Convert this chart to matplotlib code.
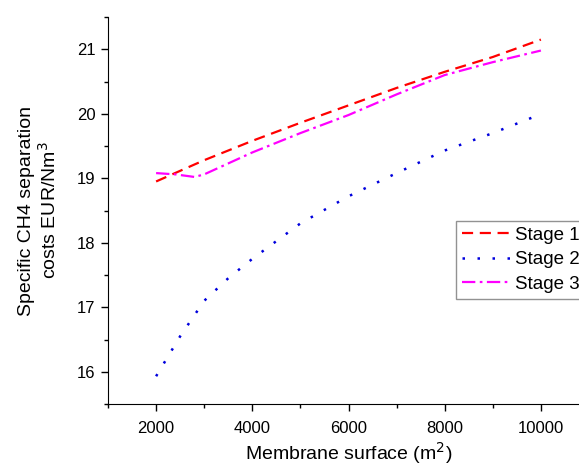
import numpy as np
import matplotlib
matplotlib.use('Agg')
import matplotlib.pyplot as plt
from matplotlib.ticker import MultipleLocator

plt.rcParams['font.family'] = ['Liberation Sans', 'DejaVu Sans']

# data
x_stage1 = [2000, 3000, 4000, 5000, 6000, 7000, 8000, 9000, 10000]
y_stage1 = [18.95, 19.28, 19.58, 19.86, 20.13, 20.4, 20.65, 20.88, 21.15]

x_stage2 = [2000, 2500, 3000, 3500, 4000, 5000, 6000, 7000, 8000, 9000, 9850]
y_stage2 = [15.93, 16.55, 17.1, 17.45, 17.75, 18.3, 18.72, 19.08, 19.43, 19.7, 19.95]

x_stage3 = [2000, 2400, 2800, 3000, 4000, 5000, 6000, 7000, 8000, 9000, 10000]
y_stage3 = [19.08, 19.06, 19.02, 19.06, 19.4, 19.7, 19.98, 20.3, 20.6, 20.8, 20.98]

labels = ['Stage 1', 'Stage 2', 'Stage 3']


def main():
    fig = plt.figure(figsize=(5.79, 4.67), dpi=100)
    # axes run past the right edge of the figure, as in the cropped original
    ax = fig.add_axes([108/579, 63/467, 481/579, 387/467])

    ax.plot(x_stage1, y_stage1, color='#ff0000', linestyle=(0, (5, 3)), lw=1.6, label=labels[0])
    ax.plot(x_stage2, y_stage2, color='#0000dd', linestyle=(0, (1, 5)), lw=1.8, label=labels[1])
    ax.plot(x_stage3, y_stage3, color='#ff00ff', linestyle=(0, (6, 2, 1.2, 2)), lw=1.6, label=labels[2])

    ax.set_xlim(1000, 11000)
    ax.set_ylim(15.5, 21.5)
    ax.xaxis.set_major_locator(MultipleLocator(2000))
    ax.xaxis.set_minor_locator(MultipleLocator(1000))
    ax.yaxis.set_major_locator(MultipleLocator(1))
    ax.yaxis.set_minor_locator(MultipleLocator(0.5))

    ax.spines['top'].set_visible(False)
    ax.spines['right'].set_visible(False)
    ax.tick_params(which='major', direction='out', length=5, width=1, labelsize=12, pad=4)
    ax.tick_params(axis='x', which='major', pad=7)
    ax.tick_params(which='minor', direction='out', length=3, width=1)

    ax.set_xlabel('Membrane surface (m$^2$)', fontsize=14, labelpad=3)
    ax.set_ylabel('Specific CH4 separation\ncosts EUR/Nm$^3$', fontsize=14, labelpad=12)

    leg = ax.legend(loc='upper left', bbox_to_anchor=(456/579, 1 - 221/467),
                    bbox_transform=fig.transFigure, borderaxespad=0,
                    fancybox=False, edgecolor='#777777', fontsize=13.5,
                    handlelength=2.6, handletextpad=0.25, labelspacing=0.4,
                    borderpad=0.3)
    leg.get_frame().set_linewidth(1)

    fig.savefig('out.png', dpi=100)


if __name__ == '__main__':
    main()
